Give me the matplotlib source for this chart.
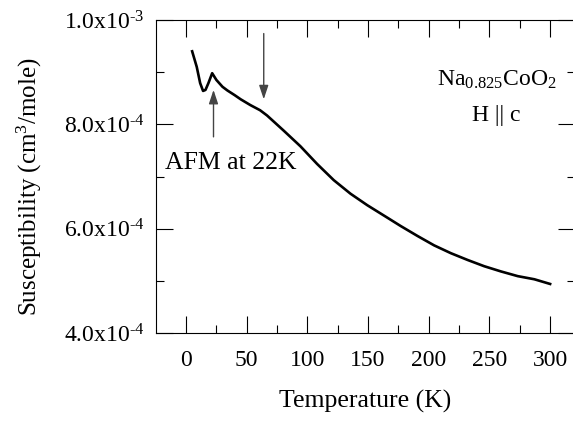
import numpy as np
import matplotlib
matplotlib.use('Agg')
import matplotlib.pyplot as plt

plt.rcParams['font.family'] = ['Liberation Serif', 'DejaVu Serif']
plt.rcParams['mathtext.fontset'] = 'custom'
plt.rcParams['mathtext.rm'] = 'Liberation Serif'
plt.rcParams['mathtext.it'] = 'Liberation Serif:italic'

# temperature (K) and susceptibility (x1e-4 cm^3/mole)
temp = [5, 8.8, 11.6, 14, 16, 18.4, 21.5, 25, 30, 34, 40, 45, 52.9, 61, 66.7,
        80.4, 94.2, 108, 121.7, 135.5, 149.3, 165.9, 176.9, 190.7, 204.4, 218.2,
        232, 245.7, 259.5, 273.3, 287, 300]
chi = [9.40, 9.10, 8.79, 8.64, 8.66, 8.79, 8.98, 8.85, 8.72, 8.65, 8.56, 8.48,
       8.37, 8.27, 8.17, 7.88, 7.58, 7.24, 6.93, 6.67, 6.45, 6.21, 6.05, 5.86,
       5.68, 5.53, 5.40, 5.28, 5.18, 5.09, 5.03, 4.94]

xticks = [0, 50, 100, 150, 200, 250, 300]
yticks = [4e-4, 6e-4, 8e-4, 1e-3]
ylabels = ['4.0x10$^{\\text{-}4}$', '6.0x10$^{\\text{-}4}$',
           '8.0x10$^{\\text{-}4}$', '1.0x10$^{\\text{-}3}$']

fig = plt.figure(figsize=(5.73, 4.21), dpi=100)
ax = fig.add_axes([155.5 / 573, 1 - 333 / 421, 419.5 / 573, 313 / 421])

chi_arr = np.array(chi) * 1e-4
ax.plot(temp, chi_arr, color='black', lw=1.9)

ax.set_xlim(-25.2, 320.5)
ax.set_ylim(4e-4, 1e-3)
ax.set_xticks(xticks)
ax.set_xticks(np.arange(25, 300, 50), minor=True)
ax.set_yticks(yticks)
ax.set_yticklabels(ylabels)
ax.set_yticks([5e-4, 7e-4, 9e-4], minor=True)

ax.tick_params(which='both', direction='in', top=True, right=True, labelsize=17)
ax.tick_params(which='major', length=12, width=0.8)
ax.tick_params(which='minor', length=6, width=0.8)
ax.tick_params(axis='x', pad=12)
ax.tick_params(axis='y', pad=8)
for s in ax.spines.values():
    s.set_linewidth(0.8)

ax.set_xlabel('Temperature (K)', fontsize=18.5, labelpad=14)
ax.set_ylabel('Susceptibility (cm$^3$/mole)', fontsize=18, labelpad=11)
ax.yaxis.set_label_coords(-0.265, 0.467)

# arrows
ax.annotate('', xy=(64, 8.48e-4), xytext=(64, 9.74e-4),
            arrowprops=dict(arrowstyle='-|>,head_length=0.6,head_width=0.2',
                            color='#444444', lw=1, mutation_scale=14,
                            shrinkA=0, shrinkB=0))
ax.annotate('', xy=(22.6, 8.66e-4), xytext=(22.6, 7.76e-4),
            arrowprops=dict(arrowstyle='-|>,head_length=0.6,head_width=0.2',
                            color='#444444', lw=1, mutation_scale=14,
                            shrinkA=0, shrinkB=0))

ax.text(-17.5, 7.25e-4, 'AFM at 22K', fontsize=18.5, va='center', ha='left')
ax.text(256, 8.86e-4, 'Na$_{0.825}$CoO$_2$', fontsize=17, ha='center', va='center')
ax.text(256, 8.16e-4, 'H || c', fontsize=17, ha='center', va='center')

fig.savefig('out.png', dpi=100)
